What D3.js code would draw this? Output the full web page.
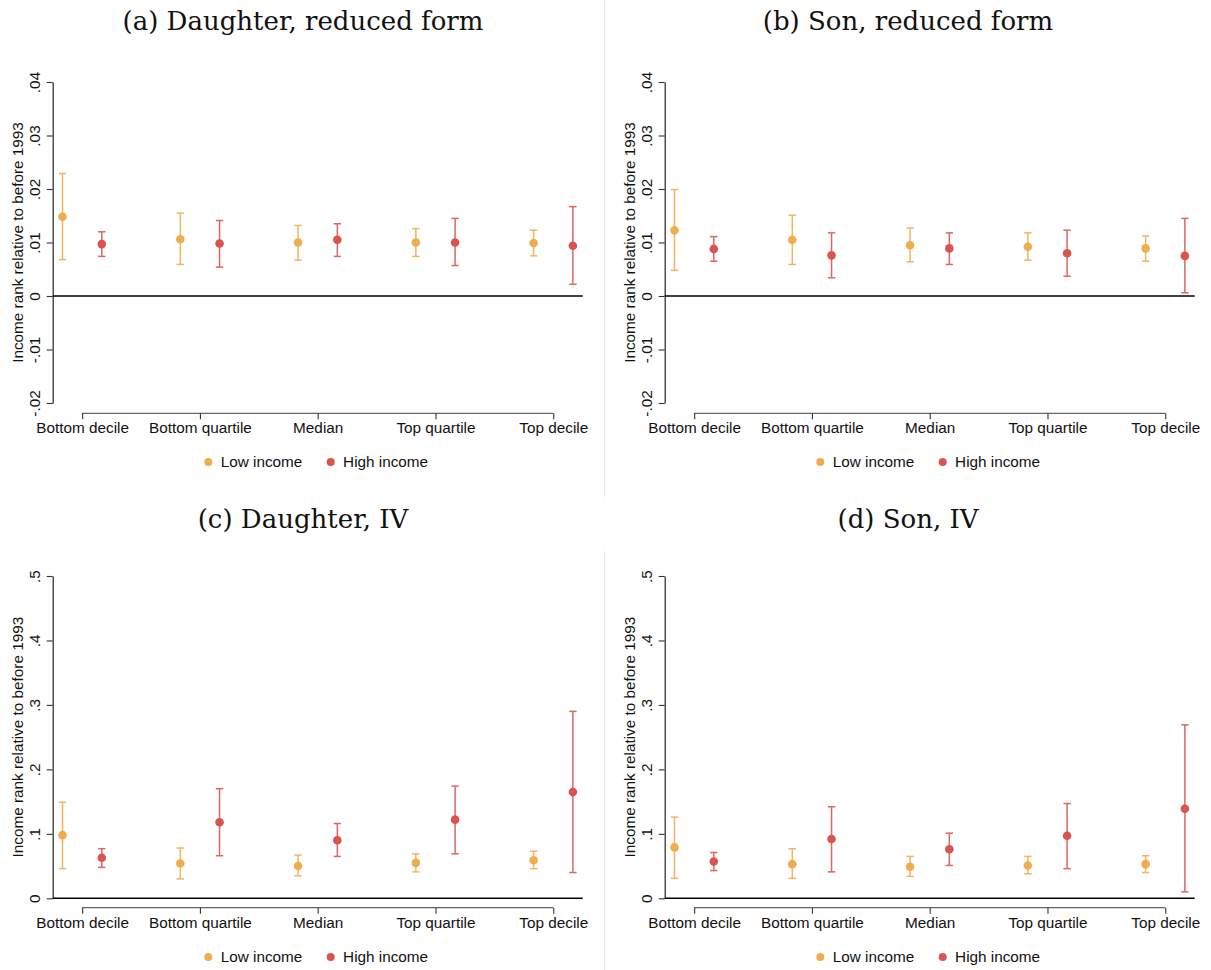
<!DOCTYPE html>
<html>
<head>
<meta charset="utf-8">
<script src="https://cdn.jsdelivr.net/npm/d3@7"></script>
<style>
  body { margin: 0; background: #fff; }
  svg { display: block; }
</style>
</head>
<body>
<div id="chart"></div>
<script>
// Categories and series
const categories = ["Bottom decile", "Bottom quartile", "Median", "Top quartile", "Top decile"];
const seriesNames = ["Low income", "High income"];
const seriesColors = ["#F0AD4E", "#D9534F"];

// Panel titles
const titles = ["(a) Daughter, reduced form", "(b) Son, reduced form", "(c) Daughter, IV", "(d) Son, IV"];
const yTitle = "Income rank relative to before 1993";

// Y ticks
const topTicks = [-0.02, -0.01, 0, 0.01, 0.02, 0.03, 0.04];
const topTickLabels = ["-.02", "-.01", "0", ".01", ".02", ".03", ".04"];
const bottomTicks = [0, 0.1, 0.2, 0.3, 0.4, 0.5];
const bottomTickLabels = ["0", ".1", ".2", ".3", ".4", ".5"];

// (a) Daughter, reduced form
const aLowEst  = [0.0148, 0.0106, 0.0100, 0.0100, 0.0099];
const aLowLo   = [0.0068, 0.0059, 0.0067, 0.0074, 0.0075];
const aLowHi   = [0.0229, 0.0155, 0.0132, 0.0126, 0.0123];
const aHighEst = [0.0097, 0.0098, 0.0105, 0.0100, 0.0094];
const aHighLo  = [0.0074, 0.0054, 0.0074, 0.0057, 0.0022];
const aHighHi  = [0.0120, 0.0141, 0.0135, 0.0145, 0.0167];

// (b) Son, reduced form
const bLowEst  = [0.0123, 0.0105, 0.0095, 0.0092, 0.0089];
const bLowLo   = [0.0048, 0.0059, 0.0064, 0.0067, 0.0065];
const bLowHi   = [0.0199, 0.0151, 0.0127, 0.0118, 0.0112];
const bHighEst = [0.0088, 0.0076, 0.0089, 0.0080, 0.0075];
const bHighLo  = [0.0065, 0.0034, 0.0059, 0.0037, 0.0006];
const bHighHi  = [0.0111, 0.0118, 0.0118, 0.0123, 0.0145];

// (c) Daughter, IV
const cLowEst  = [0.098, 0.054, 0.050, 0.055, 0.059];
const cLowLo   = [0.046, 0.030, 0.035, 0.041, 0.046];
const cLowHi   = [0.149, 0.078, 0.067, 0.069, 0.073];
const cHighEst = [0.063, 0.118, 0.090, 0.122, 0.165];
const cHighLo  = [0.048, 0.066, 0.065, 0.069, 0.040];
const cHighHi  = [0.077, 0.170, 0.116, 0.174, 0.290];

// (d) Son, IV
const dLowEst  = [0.079, 0.053, 0.049, 0.051, 0.053];
const dLowLo   = [0.031, 0.031, 0.034, 0.038, 0.040];
const dLowHi   = [0.126, 0.077, 0.065, 0.065, 0.066];
const dHighEst = [0.057, 0.092, 0.076, 0.097, 0.139];
const dHighLo  = [0.043, 0.041, 0.051, 0.046, 0.010];
const dHighHi  = [0.071, 0.142, 0.101, 0.147, 0.269];

const W = 1211, H = 970;
const sans = "'Liberation Sans', Arial, sans-serif";
const serif = "'DejaVu Serif', serif";
const fs = 15.3;

const svg = d3.select("#chart").append("svg")
    .attr("width", W)
    .attr("height", H);

// faint frame lines between the left and right figures
svg.append("line").attr("x1", 604.5).attr("x2", 604.5).attr("y1", 0).attr("y2", 497)
    .attr("stroke", "#e6ebee").attr("stroke-width", 1);
svg.append("line").attr("x1", 604.5).attr("x2", 604.5).attr("y1", 551).attr("y2", H)
    .attr("stroke", "#e6ebee").attr("stroke-width", 1);

function buildSeries(est, lo, hi) {
    return categories.map((c, i) => ({ cat: i + 1, est: est[i], lo: lo[i], hi: hi[i] }));
}

const panels = [
    { title: titles[0], ox: 0,   row: 0, ticks: topTicks, labels: topTickLabels,
      low: buildSeries(aLowEst, aLowLo, aLowHi), high: buildSeries(aHighEst, aHighLo, aHighHi) },
    { title: titles[1], ox: 612, row: 0, ticks: topTicks, labels: topTickLabels,
      low: buildSeries(bLowEst, bLowLo, bLowHi), high: buildSeries(bHighEst, bHighLo, bHighHi) },
    { title: titles[2], ox: 0,   row: 1, ticks: bottomTicks, labels: bottomTickLabels,
      low: buildSeries(cLowEst, cLowLo, cLowHi), high: buildSeries(cHighEst, cHighLo, cHighHi) },
    { title: titles[3], ox: 612, row: 1, ticks: bottomTicks, labels: bottomTickLabels,
      low: buildSeries(dLowEst, dLowLo, dLowHi), high: buildSeries(dHighEst, dHighLo, dHighHi) }
];

// row geometry (plot top/bottom, x axis, labels, legend, title)
const rows = [
    { yTop: 82,  yBot: 403,   xAxisY: 413.3, titleY: 30,  legendY: 462 },
    { yTop: 576, yBot: 898.3, xAxisY: 907.7, titleY: 528, legendY: 957 }
];

const plotLeft = 52.7, plotRight = 582.7;
const offset = 1 / 6; // horizontal shift of the two series around each category

panels.forEach(p => {
    const r = rows[p.row];
    const g = svg.append("g").attr("transform", `translate(${p.ox},0)`);

    const x = d3.scaleLinear().domain([0.75, 5.25]).range([plotLeft, plotRight]);
    const y = d3.scaleLinear().domain([p.ticks[0], p.ticks[p.ticks.length - 1]]).range([r.yBot, r.yTop]);

    // title
    svg.append("text")
        .attr("x", p.ox === 0 ? 303 : 908)
        .attr("y", r.titleY)
        .attr("text-anchor", "middle")
        .style("font-family", serif)
        .style("font-size", "26px")
        .style("fill", "#111")
        .text(p.title);

    // y axis
    const yAxis = g.append("g")
        .attr("transform", `translate(${plotLeft},0)`)
        .call(d3.axisLeft(y).tickValues(p.ticks).tickSize(6).tickSizeOuter(0)
            .tickFormat((d, i) => p.labels[i]));
    yAxis.select(".domain").attr("stroke", "#222").attr("stroke-width", 1.2);
    yAxis.selectAll(".tick line").attr("stroke", "#333").attr("stroke-width", 1.1);
    yAxis.selectAll(".tick text")
        .attr("transform", "rotate(-90)")
        .attr("x", 0)
        .attr("y", -12.7)
        .attr("dy", 0)
        .attr("text-anchor", "middle")
        .style("font-family", sans)
        .style("font-size", fs + "px")
        .style("fill", "#111");

    // y axis title
    g.append("text")
        .attr("transform", `translate(22.7,${(r.yTop + r.yBot) / 2}) rotate(-90)`)
        .attr("text-anchor", "middle")
        .style("font-family", sans)
        .style("font-size", fs + "px")
        .style("fill", "#111")
        .text(yTitle);

    // x axis (categorical positions 1..5)
    const xAxis = g.append("g")
        .attr("transform", `translate(0,${r.xAxisY})`)
        .call(d3.axisBottom(x).tickValues([1, 2, 3, 4, 5]).tickSize(6).tickSizeOuter(0)
            .tickFormat((d, i) => categories[i]));
    xAxis.select(".domain")
        .attr("d", `M${x(1)},0H${x(5)}`)
        .attr("stroke", "#666").attr("stroke-width", 1.2);
    xAxis.selectAll(".tick line").attr("stroke", "#333").attr("stroke-width", 1.1);
    xAxis.selectAll(".tick text")
        .attr("y", r.xAxisY < 500 ? 19.7 : 20)
        .attr("dy", 0)
        .style("font-family", sans)
        .style("font-size", fs + "px")
        .style("fill", "#111");

    // zero reference line
    g.append("line")
        .attr("x1", plotLeft).attr("x2", plotRight)
        .attr("y1", y(0)).attr("y2", y(0))
        .attr("stroke", "#000").attr("stroke-width", 1.5);

    // error bars and points
    [p.low, p.high].forEach((data, si) => {
        const col = seriesColors[si];
        const dx = si === 0 ? -offset : offset;
        const sg = g.append("g");
        const bars = sg.selectAll(".bar").data(data).enter().append("g")
            .attr("stroke", col).attr("stroke-width", 1.5).attr("opacity", 0.88);
        bars.append("line")
            .attr("x1", d => x(d.cat + dx)).attr("x2", d => x(d.cat + dx))
            .attr("y1", d => y(d.lo)).attr("y2", d => y(d.hi));
        bars.append("line")
            .attr("x1", d => x(d.cat + dx) - 3.7).attr("x2", d => x(d.cat + dx) + 3.7)
            .attr("y1", d => y(d.hi)).attr("y2", d => y(d.hi));
        bars.append("line")
            .attr("x1", d => x(d.cat + dx) - 3.7).attr("x2", d => x(d.cat + dx) + 3.7)
            .attr("y1", d => y(d.lo)).attr("y2", d => y(d.lo));
        sg.selectAll(".pt").data(data).enter().append("circle")
            .attr("cx", d => x(d.cat + dx))
            .attr("cy", d => y(d.est))
            .attr("r", 4.3)
            .attr("fill", col);
    });

    // legend
    const legX = [208.3, 330.7];
    seriesNames.forEach((name, i) => {
        g.append("circle")
            .attr("cx", legX[i]).attr("cy", r.legendY)
            .attr("r", 4).attr("fill", seriesColors[i]);
        g.append("text")
            .attr("x", legX[i] + 12.4).attr("y", r.legendY + 5.3)
            .style("font-family", sans)
            .style("font-size", fs + "px")
            .style("fill", "#111")
            .text(name);
    });
});
</script>
</body>
</html>
